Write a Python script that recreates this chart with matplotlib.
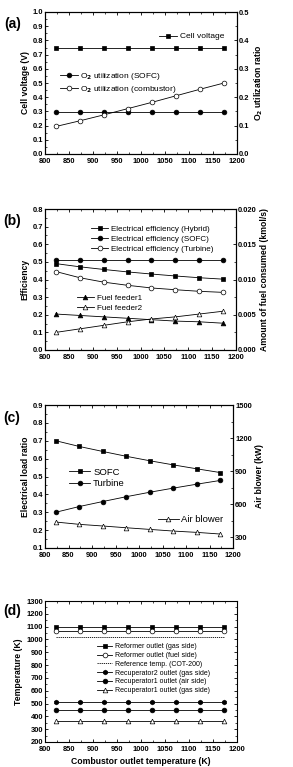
import matplotlib
matplotlib.use('Agg')
import matplotlib.pyplot as plt
from matplotlib.ticker import MultipleLocator

plt.rcParams['font.family'] = ['Liberation Sans', 'DejaVu Sans']
plt.rcParams['font.weight'] = 'bold'
plt.rcParams['axes.labelweight'] = 'bold'
plt.rcParams['font.size'] = 5.4
plt.rcParams['axes.linewidth'] = 0.8

# combustor outlet temperature (K)
cot = [823, 873, 923, 973, 1023, 1073, 1123, 1173]

# (a)
cell_voltage = [0.75, 0.75, 0.75, 0.75, 0.75, 0.75, 0.75, 0.75]
o2_sofc = [0.147, 0.147, 0.147, 0.147, 0.147, 0.147, 0.147, 0.147]
o2_comb = [0.097, 0.117, 0.138, 0.160, 0.182, 0.205, 0.228, 0.250]

# (b)
eff_hybrid = [0.490, 0.472, 0.457, 0.443, 0.431, 0.420, 0.410, 0.402]
eff_sofc = [0.51, 0.51, 0.51, 0.51, 0.51, 0.51, 0.51, 0.51]
eff_turbine = [0.445, 0.410, 0.385, 0.367, 0.352, 0.342, 0.333, 0.327]
fuel_feeder1 = [0.0051, 0.0049, 0.0047, 0.0045, 0.0043, 0.0041, 0.0040, 0.0038]
fuel_feeder2 = [0.0025, 0.0030, 0.0035, 0.0040, 0.0044, 0.0047, 0.0051, 0.0055]

# (c)
load_sofc = [0.700, 0.668, 0.640, 0.613, 0.588, 0.565, 0.543, 0.522]
load_turbine = [0.300, 0.332, 0.360, 0.387, 0.412, 0.435, 0.457, 0.478]
air_blower = [436, 415, 400, 384, 369, 354, 342, 327]

# (d)
t_ref_gas = [1098] * 8
t_ref_fuel = [1065] * 8
t_reference = [1022] * 8
t_rec2_gas = [512] * 8
t_rec1_air = [450] * 8
t_rec1_gas = [365] * 8

fig = plt.figure(figsize=(2.93, 7.67), dpi=100)
W, H = 293.0, 767.0


def make_ax(l, r, t, b):
    return fig.add_axes([l / W, 1 - b / H, (r - l) / W, (b - t) / H])


def style(ax, right=True):
    ax.set_xlim(800, 1200)
    ax.xaxis.set_major_locator(MultipleLocator(50))
    ax.xaxis.set_minor_locator(MultipleLocator(25))
    ax.tick_params(which='both', direction='in', top=True, right=not right, pad=1.5)
    ax.tick_params(axis='x', which='both', pad=3)
    ax.tick_params(which='major', length=2.5, width=0.6)
    ax.tick_params(which='minor', length=1.5, width=0.5)


def style_right(ax2):
    ax2.tick_params(which='both', direction='in', pad=1.5)
    ax2.tick_params(which='major', length=2.5, width=0.6)
    ax2.tick_params(which='minor', length=1.5, width=0.5)


kw = dict(color='black', lw=0.6, ms=3.4, mew=0.5)
leg_kw = dict(frameon=False, handlelength=2.2, handletextpad=0.3,
              labelspacing=0.3, borderaxespad=0.2)


def leg(ax, handles, size, **extra):
    opts = dict(leg_kw)
    opts.update(extra)
    return ax.legend(handles=handles, prop={'size': size, 'weight': 'normal'}, **opts)


lab = 6.2

# ---------- (a)
ax = make_ax(45, 237, 12, 154)
ax2 = ax.twinx()
l1, = ax.plot(cot, cell_voltage, marker='s', label='Cell voltage', **kw)
l2, = ax2.plot(cot, o2_sofc, marker='o', label='O$_2$ utilization (SOFC)', **kw)
l3, = ax2.plot(cot, o2_comb, marker='o', mfc='white', label='O$_2$ utilization (combustor)', **kw)
ax.set_ylim(0, 1.0)
ax.yaxis.set_major_locator(MultipleLocator(0.1))
ax.yaxis.set_minor_locator(MultipleLocator(0.05))
ax2.set_ylim(0, 0.5)
ax2.yaxis.set_major_locator(MultipleLocator(0.1))
ax2.yaxis.set_minor_locator(MultipleLocator(0.05))
style(ax)
style_right(ax2)
ax.set_ylabel('Cell voltage (V)', fontsize=lab, labelpad=2)
ax2.set_ylabel('O$_2$ utilization ratio', fontsize=lab, labelpad=2)
leg(ax, [l1], 6.0, loc='upper right', bbox_to_anchor=(0.96, 0.89))
leg(ax2, [l2, l3], 6.0, loc='center left', bbox_to_anchor=(0.05, 0.5))
fig.text(4 / W, 1 - 28 / H, '(a)', fontsize=10, fontweight='bold')

# ---------- (b)
ax = make_ax(45, 236, 209, 350)
ax2 = ax.twinx()
h1, = ax.plot(cot, eff_hybrid, marker='s', label='Electrical efficiency (Hybrid)', **kw)
h2, = ax.plot(cot, eff_sofc, marker='o', label='Electrical efficiency (SOFC)', **kw)
h3, = ax.plot(cot, eff_turbine, marker='o', mfc='white', label='Electrical efficiency (Turbine)', **kw)
f1, = ax2.plot(cot, fuel_feeder1, marker='^', label='Fuel feeder1', **kw)
f2, = ax2.plot(cot, fuel_feeder2, marker='^', mfc='white', label='Fuel feeder2', **kw)
ax.set_ylim(0, 0.8)
ax.yaxis.set_major_locator(MultipleLocator(0.1))
ax.yaxis.set_minor_locator(MultipleLocator(0.05))
ax2.set_ylim(0, 0.020)
ax2.yaxis.set_major_locator(MultipleLocator(0.005))
ax2.yaxis.set_minor_locator(MultipleLocator(0.0025))
style(ax)
style_right(ax2)
ax.set_ylabel('Efficiency', fontsize=lab, labelpad=2)
ax2.set_ylabel('Amount of fuel consumed (kmol/s)', fontsize=lab, labelpad=2)
leg(ax, [h1, h2, h3], 5.8, loc='upper center', bbox_to_anchor=(0.56, 0.92))
leg(ax2, [f1, f2], 5.8, loc='center left', bbox_to_anchor=(0.14, 0.335))
fig.text(3 / W, 1 - 225 / H, '(b)', fontsize=10, fontweight='bold')

# ---------- (c)
ax = make_ax(45, 233, 405, 548)
ax2 = ax.twinx()
c1, = ax.plot(cot, load_sofc, marker='s', label='SOFC', **kw)
c2, = ax.plot(cot, load_turbine, marker='o', label='Turbine', **kw)
c3, = ax2.plot(cot, air_blower, marker='^', mfc='white', label='Air blower', **kw)
ax.set_ylim(0.1, 0.9)
ax.yaxis.set_major_locator(MultipleLocator(0.1))
ax.yaxis.set_minor_locator(MultipleLocator(0.05))
ax2.set_ylim(200, 1500)
ax2.set_yticks([300, 600, 900, 1200, 1500])
ax2.yaxis.set_minor_locator(MultipleLocator(150))
style(ax)
style_right(ax2)
ax.set_ylabel('Electrical load ratio', fontsize=lab, labelpad=2)
ax2.set_ylabel('Air blower (kW)', fontsize=lab, labelpad=2)
leg(ax, [c1, c2], 6.8, loc='center left', bbox_to_anchor=(0.1, 0.49))
leg(ax2, [c3], 6.8, loc='center left', bbox_to_anchor=(0.57, 0.2))
fig.text(3 / W, 1 - 422 / H, '(c)', fontsize=10, fontweight='bold')

# ---------- (d)
ax = make_ax(45, 237, 601, 742)
d1, = ax.plot(cot, t_ref_gas, marker='s', label='Reformer outlet (gas side)', **kw)
d2, = ax.plot(cot, t_ref_fuel, marker='o', mfc='white', label='Reformer outlet (fuel side)', **kw)
d3, = ax.plot(cot, t_reference, ls=(0, (1.5, 1)), color='black', lw=0.6, label='Reference temp. (COT-200)')
d4, = ax.plot(cot, t_rec2_gas, marker='h', label='Recuperator2 outlet (gas side)', **kw)
d5, = ax.plot(cot, t_rec1_air, marker='o', label='Recuperator1 outlet (air side)', **kw)
d6, = ax.plot(cot, t_rec1_gas, marker='^', mfc='white', label='Recuperator1 outlet (gas side)', **kw)
ax.set_ylim(200, 1300)
ax.yaxis.set_major_locator(MultipleLocator(100))
ax.yaxis.set_minor_locator(MultipleLocator(50))
style(ax, right=False)
ax.tick_params(which='both', right=True)
ax.set_ylabel('Temperature (K)', fontsize=lab, labelpad=2)
ax.set_xlabel('Combustor outlet temperature (K)', fontsize=lab, labelpad=3)
leg(ax, [d1, d2, d3, d4, d5, d6], 5.0, loc='center left', bbox_to_anchor=(0.25, 0.52),
    labelspacing=0.25)
fig.text(3 / W, 1 - 615 / H, '(d)', fontsize=10, fontweight='bold')

fig.savefig('out.png', dpi=100)
